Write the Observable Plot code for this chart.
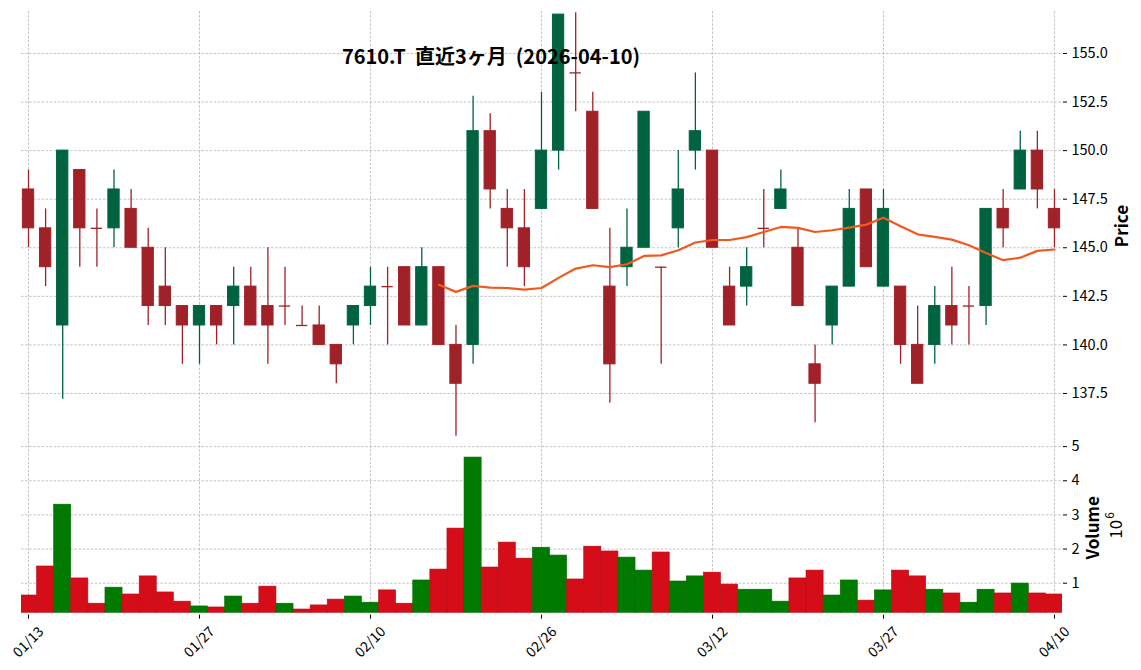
<!DOCTYPE html>
<html><head><meta charset="utf-8">
<script src="https://cdn.jsdelivr.net/npm/d3@7"></script>
<script src="https://cdn.jsdelivr.net/npm/@observablehq/plot@0.6"></script>
<style>
body{margin:0;background:#fff;}
#wrap{position:relative;width:1141px;height:670px;font-family:"Noto Sans CJK JP",sans-serif;overflow:hidden;}
#wrap svg{position:absolute;left:0;overflow:visible;background:none;}
#title{position:absolute;left:491px;top:41px;transform:translateX(-50%);font-size:20px;font-weight:bold;white-space:pre;color:#000;z-index:5;}
</style></head>
<body><div id="wrap"><div id="title">7610.T  直近3ヶ月  (2026-04-10)</div></div>
<script>
const dates = ["01/13","01/14","01/15","01/16","01/19","01/20","01/21","01/22","01/23","01/26",
"01/27","01/28","01/29","01/30","02/02","02/03","02/04","02/05","02/06","02/09",
"02/10","02/12","02/13","02/16","02/17","02/18","02/19","02/20","02/24","02/25",
"02/26","02/27","03/02","03/03","03/04","03/05","03/06","03/09","03/10","03/11",
"03/12","03/13","03/16","03/17","03/18","03/19","03/23","03/24","03/25","03/26",
"03/27","03/30","03/31","04/01","04/02","04/03","04/06","04/07","04/08","04/09","04/10"];
const open = [148,146,141,149,146,146,147,145,143,142, 141,142,142,143,142,142,141,141,140,141,
 142,143,144,141,144,140,140,151,147,146, 147,150,154,152,143,144,145,144,146,150,
 150,143,143,146,147,145,139,141,143,148, 143,143,140,140,142,142,142,147,148,150, 147];
const high = [149,147,150,149,147,149,148,146,145,142, 142,142,144,144,145,144,142,142,140,142,
 144,144,144,145,144,141,152.8,151.9,148,148, 153,157,157.1,153,146,147,152,144,150,154,
 150,144,145,148,149,146,140,143,148,148, 148,143,142,143,144,143,147,148,151,151, 148];
const low = [145,143,137.2,144,144,145,145,141,141,139, 139,140,140,141,139,141,141,140,138,140,
 141,140,141,141,140,135.3,139,147,144,143, 147,149,152,147,137,143,145,139,145,149,
 145,141,142,145,147,142,136,140,143,144, 143,139,138,139,140,140,141,145,148,147, 145];
const close = [146,144,150,146,146,148,145,142,142,141, 142,141,143,141,141,142,141,140,139,142,
 143,143,141,144,140,138,151,148,146,144, 150,157,154,147,139,145,152,144,148,151,
 145,141,144,146,148,142,138,143,147,144, 147,140,138,142,141,142,147,146,150,148, 146];
const volume = [0.64,1.49,3.30,1.14,0.40,0.87,0.67,1.20,0.73,0.46, 0.32,0.29,0.61,0.40,0.90,0.40,0.23,0.35,0.52,0.61,
 0.43,0.79,0.40,1.08,1.40,2.60,4.68,1.46,2.19,1.72, 2.04,1.81,1.11,2.07,1.93,1.75,1.37,1.90,1.05,1.20,
 1.31,0.96,0.81,0.81,0.46,1.14,1.37,0.64,1.08,0.49, 0.79,1.37,1.20,0.81,0.70,0.43,0.81,0.70,0.99,0.70, 0.67];
const ma25 = [null,null,null,null,null,null,null,null,null,null,null,null,null,null,null,null,null,null,null,null,null,null,null,null,
 143.1,142.73,143.04,142.95,142.93,142.85,142.93,143.45,143.93,144.1,144.0,144.15,144.58,144.61,144.87,145.27,
 145.40,145.40,145.55,145.81,146.07,146.02,145.81,145.9,146.04,146.19,146.55,146.11,145.69,145.56,145.42,145.13,
 144.73,144.36,144.49,144.84,144.91];
const tickIdx = [0,10,20,30,40,50,60];
const priceTicks = [137.5,140,142.5,145,147.5,150,152.5,155];
const volTicks = [1,2,3,4,5];

const UP="#006340", DN="#A02128", VUP="#007a00", VDN="#d50d18", MAC="#f05a1e";
const rows = dates.map((d,i)=>({i,d,o:open[i],h:high[i],l:low[i],c:close[i],v:volume[i],ma:ma25[i],
  up: close[i]>open[i], vup: i>0 && close[i]>close[i-1]}));

const W=1141, xDomain=[-0.41,60.47];
const gridOpt = {stroke:"#b4b4b4", strokeOpacity:1, strokeWidth:0.8, strokeDasharray:"2.5,1.6"};
const styleCommon = {fontFamily:'"Noto Sans CJK JP", sans-serif', fontSize:"14.5px", color:"#000", background:"none", overflow:"visible"};

const price = Plot.plot({
  width:W, height:445, marginLeft:21, marginRight:79, marginTop:11, marginBottom:5,
  style: styleCommon,
  x:{domain:xDomain, axis:null},
  y:{domain:[135.08,157.16], axis:null},
  color:{type:"identity"},
  marks:[
    Plot.gridY(priceTicks, gridOpt),
    Plot.gridX(tickIdx, gridOpt),
    Plot.axisY(priceTicks, {anchor:"right", tickSize:4, tickPadding:5, tickFormat:d3.format(".1f"), label:null}),
    Plot.ruleX(rows, {x:"i", y1:"l", y2:"h", stroke:d=>d.up?UP:DN, strokeWidth:1.3}),
    Plot.rect(rows.filter(d=>d.o!==d.c), {x1:d=>d.i-0.33, x2:d=>d.i+0.33, y1:d=>Math.min(d.o,d.c), y2:d=>Math.max(d.o,d.c),
      fill:d=>d.up?UP:DN, stroke:d=>d.up?UP:DN, strokeWidth:1}),
    Plot.ruleY(rows.filter(d=>d.o===d.c), {y:"o", x1:d=>d.i-0.33, x2:d=>d.i+0.33, stroke:DN, strokeWidth:1.3}),
    Plot.line(rows.filter(d=>d.ma!=null), {x:"i", y:"ma", stroke:MAC, strokeWidth:2.2}),
    Plot.text(["Price"], {frameAnchor:"right", dx:60, rotate:-90, textAnchor:"middle", fontWeight:"bold", fontSize:17, fill:"#000"})
  ]
});
price.style.top="0px";

const vol = Plot.plot({
  width:W, height:234, marginLeft:21, marginRight:79, marginTop:5, marginBottom:57.3,
  style: styleCommon,
  x:{domain:xDomain, axis:null},
  y:{domain:[0.122,5.15], axis:null},
  color:{type:"identity"},
  marks:[
    Plot.gridY(volTicks, gridOpt),
    Plot.gridX(tickIdx, gridOpt),
    Plot.axisY(volTicks, {anchor:"right", tickSize:4, tickPadding:5, tickFormat:d3.format("d"), label:null}),
    Plot.rect(rows, {x1:d=>d.i-0.5, x2:d=>d.i+0.5, y1:0.122, y2:"v", clip:true,
      fill:d=>d.vup?VUP:VDN, stroke:d=>d.vup?"#006a00":"#b50c16", strokeWidth:0.6}),
    Plot.axisX(tickIdx, {anchor:"bottom", tickSize:4, dy:2, tickFormat:()=>"", label:null}),
    Plot.text(tickIdx, {x:d=>d, text:d=>dates[d], frameAnchor:"bottom", dy:29, rotate:-45,
      textAnchor:"middle", lineAnchor:"middle", fontSize:14, fill:"#000"}),
    Plot.text(["Volume"], {frameAnchor:"right", dx:31, dy:0.5, rotate:-90, textAnchor:"middle", fontWeight:"bold", fontSize:17, fill:"#000"}),
    Plot.text(["10"], {frameAnchor:"right", dx:54, dy:2, rotate:-90, textAnchor:"middle", fontSize:17, fill:"#000"}),
    Plot.text(["6"], {frameAnchor:"right", dx:48, dy:-12, rotate:-90, textAnchor:"middle", fontSize:12, fill:"#000"})
  ]
});
vol.style.top="436px";

const wrap=document.getElementById("wrap");
wrap.appendChild(price);
wrap.appendChild(vol);
</script>
</body></html>
